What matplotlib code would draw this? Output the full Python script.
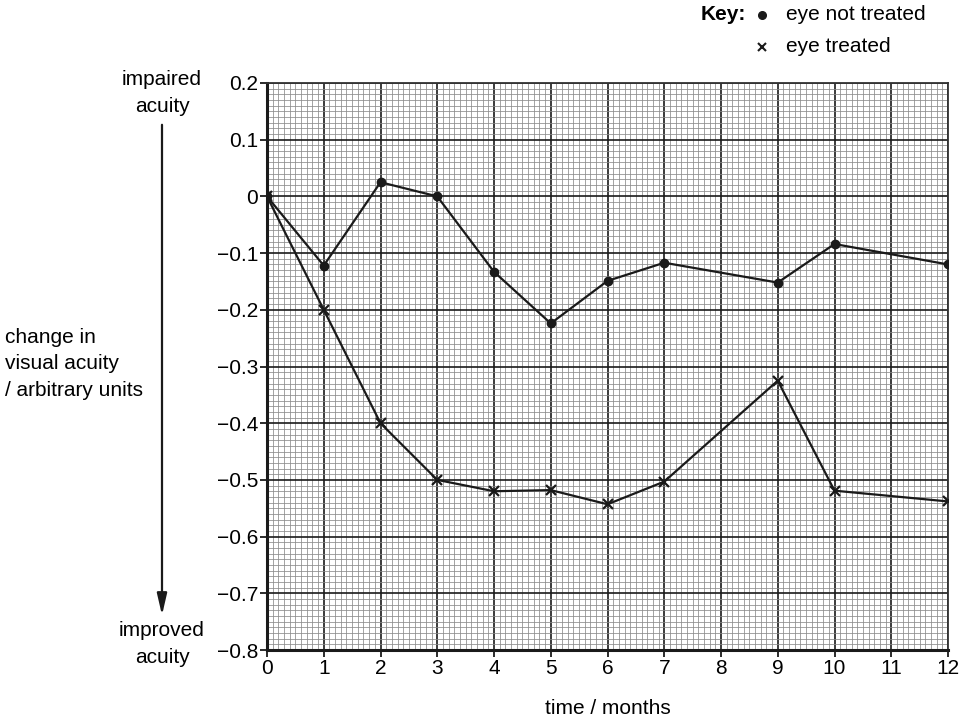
import numpy as np
import matplotlib.pyplot as plt
from matplotlib.ticker import MultipleLocator

plt.rcParams['font.family'] = ['Liberation Sans', 'DejaVu Sans']

months = [0, 1, 2, 3, 4, 5, 6, 7, 9, 10, 12]
not_treated = [0, -0.122, 0.025, 0, -0.133, -0.224, -0.149, -0.117, -0.152, -0.084, -0.12]
treated = [0, -0.2, -0.4, -0.5, -0.52, -0.518, -0.543, -0.503, -0.325, -0.519, -0.538]
y_ticks = [0.2, 0.1, 0, -0.1, -0.2, -0.3, -0.4, -0.5, -0.6, -0.7, -0.8]

W, H = 959, 725
FS = 15
fig = plt.figure(figsize=(W / 100, H / 100), dpi=100)
ax = fig.add_axes([267 / W, 1 - 650 / H, (948 - 267) / W, (650 - 83) / H])

def fx(px):
    return px / W

def fy(py):
    return 1 - py / H

ax.set_xlim(0, 12)
ax.set_ylim(-0.8, 0.2)
ax.xaxis.set_minor_locator(MultipleLocator(0.1))
ax.yaxis.set_minor_locator(MultipleLocator(0.01))
ax.grid(which='minor', color='#8a8a8a', linewidth=0.55)
ax.grid(which='major', color='#1a1a1a', linewidth=1.2)
ax.set_axisbelow(True)

ax.tick_params(which='minor', length=0)
ax.tick_params(which='major', length=5, width=1.3, labelsize=FS, pad=1.5, color='#1a1a1a')

ax.set_yticks(y_ticks)
ax.set_yticklabels([f'{v:g}'.replace('-', '\u2212') for v in y_ticks])
ax.set_xticks(range(13))

for side in ['left', 'bottom']:
    ax.spines[side].set_linewidth(2.2)
    ax.spines[side].set_color('#1a1a1a')
for side in ['right', 'top']:
    ax.spines[side].set_linewidth(1.3)
    ax.spines[side].set_color('#333333')

ax.plot(months, not_treated, color='#1a1a1a', linewidth=1.6, marker='o', markersize=6, zorder=5)
ax.plot(months, treated, color='#1a1a1a', linewidth=1.6, marker='x', markersize=7.5,
        markeredgewidth=1.6, zorder=5)

ax.set_xlabel('time / months', fontsize=FS, labelpad=15)

# left side labels and arrow
fig.text(fx(162), fy(93), 'impaired\nacuity', ha='center', va='center', fontsize=FS, linespacing=1.47)
fig.text(fx(162), fy(644), 'improved\nacuity', ha='center', va='center', fontsize=FS, linespacing=1.47)
fig.text(fx(5), fy(364), 'change in\nvisual acuity\n/ arbitrary units', ha='left', va='center',
         fontsize=FS, linespacing=1.47)
fig.add_artist(plt.Annotation('', xy=(fx(162), fy(618)), xytext=(fx(162), fy(122)),
                              xycoords='figure fraction', textcoords='figure fraction',
                              arrowprops=dict(arrowstyle='-|>,head_length=1.3,head_width=0.3',
                                              color='#1a1a1a', linewidth=1.6)))

# key
fig.text(fx(701), fy(15), 'Key:', ha='left', va='center', fontsize=FS, fontweight='bold')
fig.lines.append(plt.Line2D([fx(762)], [fy(15)], marker='o', markersize=5.5, color='#1a1a1a',
                            transform=fig.transFigure))
fig.text(fx(786), fy(15), 'eye not treated', ha='left', va='center', fontsize=FS)
fig.lines.append(plt.Line2D([fx(762)], [fy(47)], marker='x', markersize=5.5, markeredgewidth=1.5,
                            color='#1a1a1a', transform=fig.transFigure))
fig.text(fx(786), fy(47), 'eye treated', ha='left', va='center', fontsize=FS)

fig.savefig('out.png', dpi=100)
